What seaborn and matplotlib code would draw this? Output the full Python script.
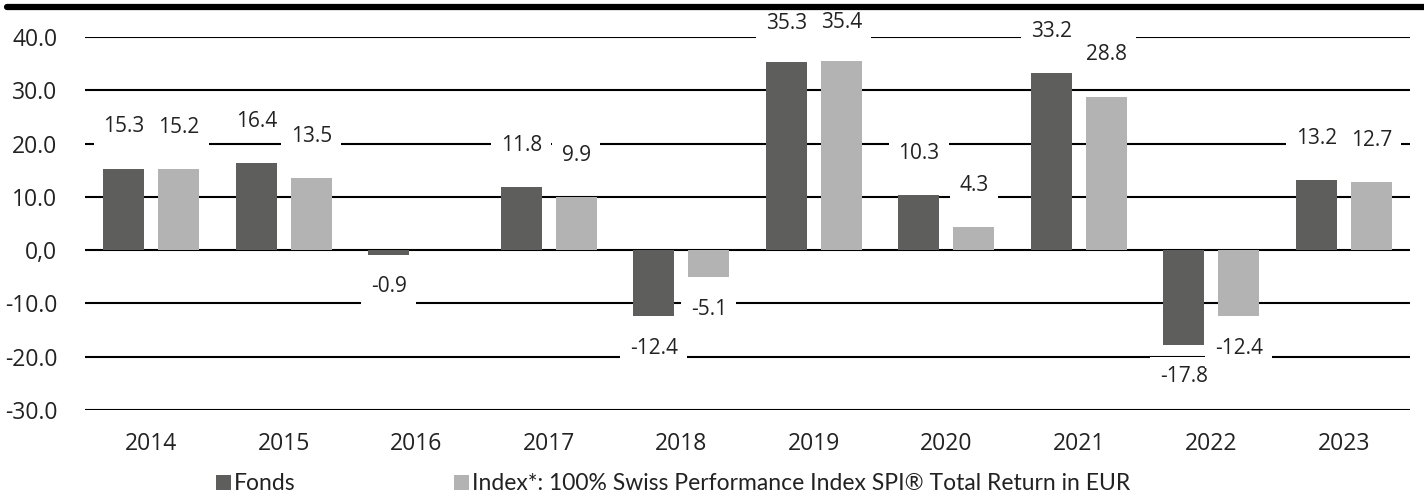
import numpy as np
import pandas as pd
import matplotlib
matplotlib.use("Agg")
import matplotlib.pyplot as plt
import seaborn as sns
from matplotlib.lines import Line2D

years = ["2014", "2015", "2016", "2017", "2018", "2019", "2020", "2021", "2022", "2023"]
fonds = [15.3, 16.4, -0.9, 11.8, -12.4, 35.3, 10.3, 33.2, -17.8, 13.2]
index = [15.2, 13.5, np.nan, 9.9, -5.1, 35.4, 4.3, 28.8, -12.4, 12.7]
series_names = ["Fonds", "Index*: 100% Swiss Performance Index SPI® Total Return in EUR"]
colors = ["#5e5e5c", "#b3b3b3"]
yticks = [40, 30, 20, 10, 0, -10, -20, -30]
ytick_labels = ["40.0", "30.0", "20.0", "10.0", "0,0", "-10.0", "-20.0", "-30.0"]

df = pd.DataFrame({"year": years * 2,
                   "series": [series_names[0]] * len(years) + [series_names[1]] * len(years),
                   "value": fonds + index}).dropna()

sns.set_theme(style="white")
plt.rcParams["font.family"] = ["Open Sans", "DejaVu Sans"]

fig = plt.figure(figsize=(14.24, 4.97), dpi=100)
ax = fig.add_axes([0.0597, 0.175, 0.9305, 0.7506])

sns.barplot(data=df, x="year", y="value", hue="series", order=years,
            hue_order=series_names, palette=colors, width=0.83, gap=0.25,
            errorbar=None, saturation=1, linewidth=0, ax=ax, legend=True, zorder=2)

ax.set_ylim(-30, 40)
ax.set_xlim(-0.5, len(years) - 0.5)
ax.set_yticks(yticks)
ax.set_yticklabels(ytick_labels)
for y in yticks:
    ax.axhline(y, color="black", lw=1.5, zorder=1)
for s in ax.spines.values():
    s.set_visible(False)
ax.tick_params(axis="y", length=0, pad=20, labelsize=16.5, colors="#222222")
ax.tick_params(axis="x", length=0, pad=16, labelsize=16.5, colors="#222222")
ax.set_xlabel("")
ax.set_ylabel("")

# value labels with white boxes that break the grid lines
for c in ax.containers:
    for p in c.patches:
        h = p.get_height()
        if np.isnan(h):
            continue
        xc = p.get_x() + p.get_width() / 2
        off = 30 if h >= 0 else -23
        if h > 35:
            off = 28
        ax.annotate(f"{h:.1f}", (xc, h), xytext=(0, off), textcoords="offset points",
                    ha="center", va="center", fontsize=15, color="#222222", zorder=3,
                    annotation_clip=False,
                    bbox=dict(boxstyle="square,pad=0.45", fc="white", ec="none"))

# legend below
handles, labels = ax.get_legend_handles_labels()
ax.legend_.remove()
fig.legend(handles, labels, loc="lower left", bbox_to_anchor=(0.137, -0.036), ncol=2,
           frameon=False, prop={"family": ["Lato", "DejaVu Sans"], "size": 16.5},
           handlelength=0.65, handleheight=0.65,
           handletextpad=0.15, columnspacing=6.9, labelcolor="#222222")

# thick rule at the top
fig.add_artist(Line2D([0.005, 1.0], [0.985, 0.985], color="black", lw=4.5,
                      transform=fig.transFigure))

fig.savefig("out.png", dpi=100)
